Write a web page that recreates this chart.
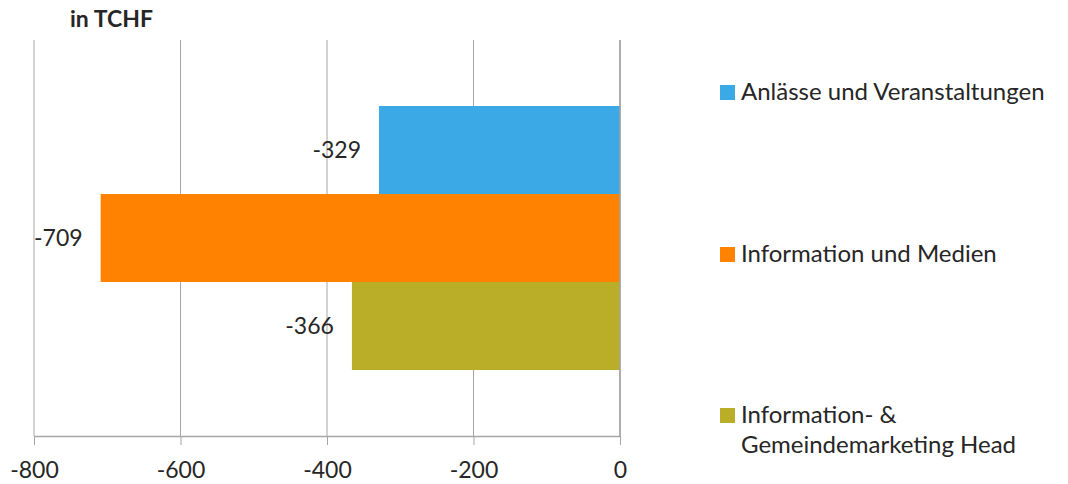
<!DOCTYPE html>
<html>
<head>
<meta charset="utf-8">
<script src="https://cdn.jsdelivr.net/npm/d3@7"></script>
<style>
	body { margin: 0; background: #fff; }
	text { font-family: Lato, 'Open Sans', sans-serif; fill: #262626; }
</style>
</head>
<body>
<div class="chart"></div>
<script>
//one category, three series (values in TCHF)
const categories = ['Total'];
const series = ['Anlässe und Veranstaltungen', 'Information und Medien', 'Information- & Gemeindemarketing Head'];
const legendLines = [['Anlässe und Veranstaltungen'], ['Information und Medien'], ['Information- &', 'Gemeindemarketing Head']];
const values = [-329, -709, -366];
const colors = ['#3BA9E6', '#FF8300', '#BAAE29'];
const tickValues = [-800, -600, -400, -200, 0];

const width = 1068;
const height = 484;
const plot = { left: 34, right: 620, top: 40, bottom: 436 };

const svg = d3
	.select('.chart')
	.append('svg')
	.attr('width', width)
	.attr('height', height);

const x = d3
	.scaleLinear()
	.domain([ -800, 0 ])
	.range([ plot.left, plot.right ]);

//outer band for the category, inner band for the series
const y0 = d3
	.scaleBand()
	.domain(categories)
	.range([ plot.top, plot.bottom ])
	.paddingOuter(0.25);

const y1 = d3
	.scaleBand()
	.domain(series)
	.range([ 0, y0.bandwidth() ]);

//vertical gridlines
svg
	.append('g')
	.selectAll('line')
	.data(tickValues)
	.enter()
	.append('line')
	.attr('x1', (d) => x(d))
	.attr('x2', (d) => x(d))
	.attr('y1', plot.top)
	.attr('y2', plot.bottom)
	.attr('stroke', '#a6a6a6')
	.attr('stroke-width', 1);

//bars
const rows = series.map((s, i) => ({ series: s, value: values[i], color: colors[i] }));

svg
	.append('g')
	.selectAll('rect')
	.data(rows)
	.enter()
	.append('rect')
	.attr('x', (d) => x(d.value))
	.attr('y', (d) => y0(categories[0]) + y1(d.series))
	.attr('width', (d) => x(0) - x(d.value))
	.attr('height', y1.bandwidth())
	.attr('fill', (d) => d.color);

//value axis line at 0
svg
	.append('line')
	.attr('x1', x(0))
	.attr('x2', x(0))
	.attr('y1', plot.top)
	.attr('y2', plot.bottom)
	.attr('stroke', '#a0a0a0')
	.attr('stroke-width', 1.5);

//data labels
svg
	.append('g')
	.selectAll('text')
	.data(rows)
	.enter()
	.append('text')
	.attr('x', (d) => x(d.value) - 18)
	.attr('y', (d) => y0(categories[0]) + y1(d.series) + y1.bandwidth() / 2 + 8)
	.attr('text-anchor', 'end')
	.style('font-size', '23px')
	.text((d) => d.value);

//x axis (plain hyphen for the minus, like the original)
const xAxis = svg
	.append('g')
	.attr('transform', `translate(0, ${plot.bottom})`)
	.call(
		d3
			.axisBottom(x)
			.tickValues(tickValues)
			.tickFormat((d) => String(d))
			.tickSize(9)
			.tickSizeOuter(0)
	);

xAxis.select('.domain').attr('stroke', '#a6a6a6').attr('stroke-width', 1.5);
xAxis.selectAll('.tick line').attr('stroke', '#a6a6a6');
xAxis
	.selectAll('.tick text')
	.attr('y', 42)
	.attr('dy', 0)
	.style('font-size', '23px')
	.style('font-family', 'Lato, sans-serif')
	.attr('fill', '#262626');

//title
svg
	.append('text')
	.attr('x', 70)
	.attr('y', 27)
	.style('font-size', '23px')
	.style('font-weight', 'bold')
	.text('in TCHF');

//legend
const legendY = [85, 247, 408];
const legend = svg
	.append('g')
	.selectAll('g')
	.data(rows)
	.enter()
	.append('g')
	.attr('transform', (d, i) => `translate(720, ${legendY[i]})`);

legend
	.append('rect')
	.attr('width', 15)
	.attr('height', 15)
	.attr('fill', (d) => d.color);

legend
	.append('text')
	.attr('x', 21)
	.attr('y', 15)
	.style('font-size', '24px')
	.selectAll('tspan')
	.data((d, i) => legendLines[i])
	.enter()
	.append('tspan')
	.attr('x', 21)
	.attr('dy', (d, j) => (j === 0 ? 0 : 30))
	.text((d) => d);
</script>
</body>
</html>
